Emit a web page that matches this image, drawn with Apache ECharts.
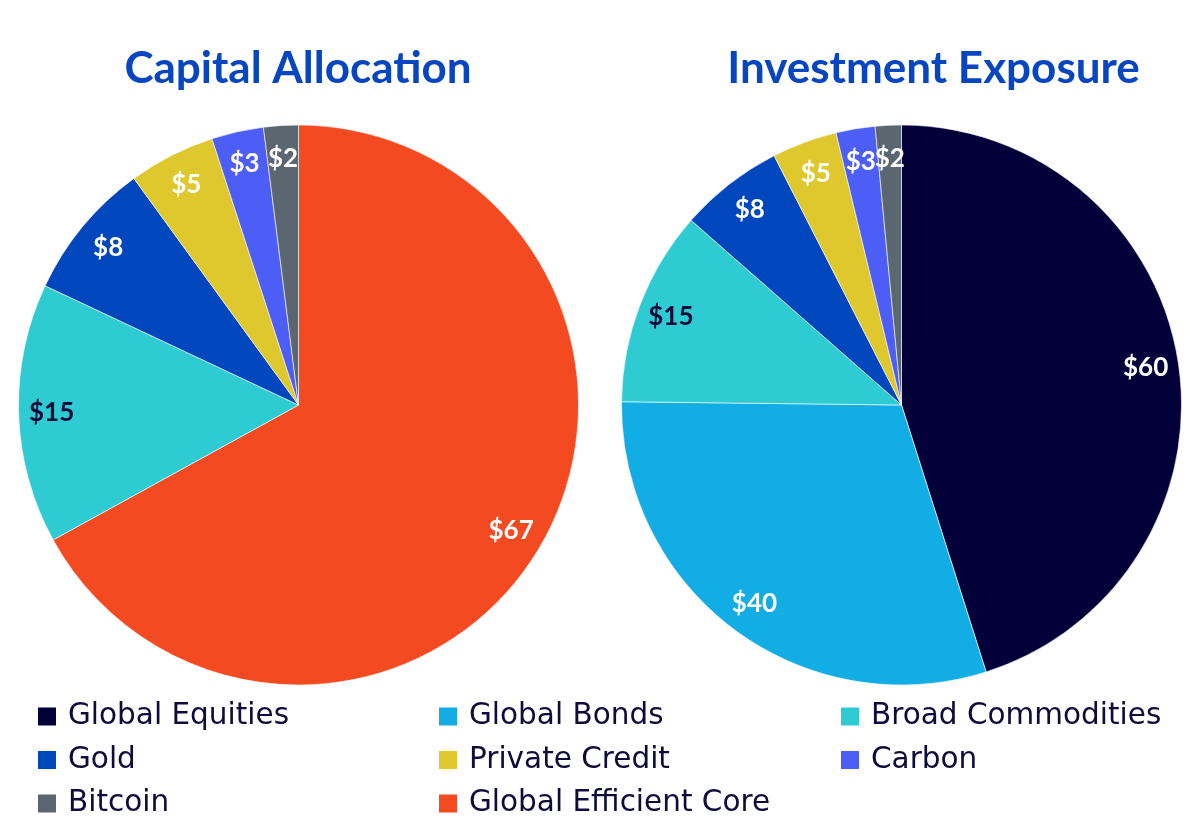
<!DOCTYPE html>
<html><head><meta charset="utf-8">
<script src="https://cdn.jsdelivr.net/npm/echarts@6/dist/echarts.min.js"></script>
<style>html,body{margin:0;padding:0;background:#fff}#c{width:1200px;height:829px}</style>
</head><body><div id="c"></div>
<script>
const leftTitle = 'Capital Allocation';
const rightTitle = 'Investment Exposure';
const leftNames = ['Global Efficient Core','Broad Commodities','Gold','Private Credit','Carbon','Bitcoin'];
const leftValues = [67,15,8,5,3,2];
const rightNames = ['Global Equities','Global Bonds','Broad Commodities','Gold','Private Credit','Carbon','Bitcoin'];
const rightValues = [60,40,15,8,5,3,2];
const legendRows = [
  ['Global Equities','Global Bonds','Broad Commodities'],
  ['Gold','Private Credit','Carbon'],
  ['Bitcoin','Global Efficient Core']
];

const colors = {
  'Global Equities':'#030039','Global Bonds':'#13ade6','Broad Commodities':'#2ecbd2',
  'Gold':'#0046bd','Private Credit':'#dec82e','Carbon':'#4d5ef6','Bitcoin':'#5a6670',
  'Global Efficient Core':'#f44a22'
};
const labelColor = n => n === 'Broad Commodities' ? '#0b0b3b' : '#ffffff';
const FONT = 'Lato';

function pieSeries(names, values, cx){
  const data = names.map((n,i)=>({name:n, value:values[i], itemStyle:{color:colors[n]}, label:{color:labelColor(n)}}));
  const base = {type:'pie', center:[cx,405], startAngle:90, clockwise:true, animation:false, avoidLabelOverlap:false};
  return [
    Object.assign({}, base, {radius:[0,280], data, label:{show:false}, labelLine:{show:false},
      itemStyle:{borderColor:'#ffffff', borderWidth:0.6}}),
    Object.assign({}, base, {radius:[208,280], silent:true,
      data: data.map(d=>Object.assign({}, d, {itemStyle:{color:'rgba(0,0,0,0)'}})),
      labelLayout:{hideOverlap:false},
      label:{show:true, position:'inside', fontFamily:FONT, fontWeight:'bold', fontSize:26,
        formatter: p => '$' + p.value}, labelLine:{show:false}, emphasis:{disabled:true}})
  ];
}

const colX = [36,437,839];
const rowY = [715.5,759,802.5];
const legends = [];
legendRows.forEach((row,r)=>row.forEach((name,c)=>{
  legends.push({
    data:[name], orient:'horizontal', left: colX[c], top: rowY[r]-15, padding:0,
    icon:'rect', itemWidth:20, itemHeight:20,
    textStyle:{fontFamily:'DejaVu Sans', fontSize:29.5, lineHeight:32, color:'#0d0c3b', padding:[0,0,0,6]},
    selectedMode:false
  });
}));

const option = {
  backgroundColor:'#ffffff',
  title:[
    {text:leftTitle, left:293, top:42, textAlign:'center', textStyle:{fontFamily:FONT, fontWeight:'bold', fontSize:44, color:'#0846c1'}},
    {text:rightTitle, left:928.5, top:42, textAlign:'center', textStyle:{fontFamily:FONT, fontWeight:'bold', fontSize:44, color:'#0846c1'}}
  ],
  legend: legends,
  series: [...pieSeries(leftNames,leftValues,298.5), ...pieSeries(rightNames,rightValues,901.5)]
};
const chart = echarts.init(document.getElementById('c'));
chart.setOption(option);
</script></body></html>
